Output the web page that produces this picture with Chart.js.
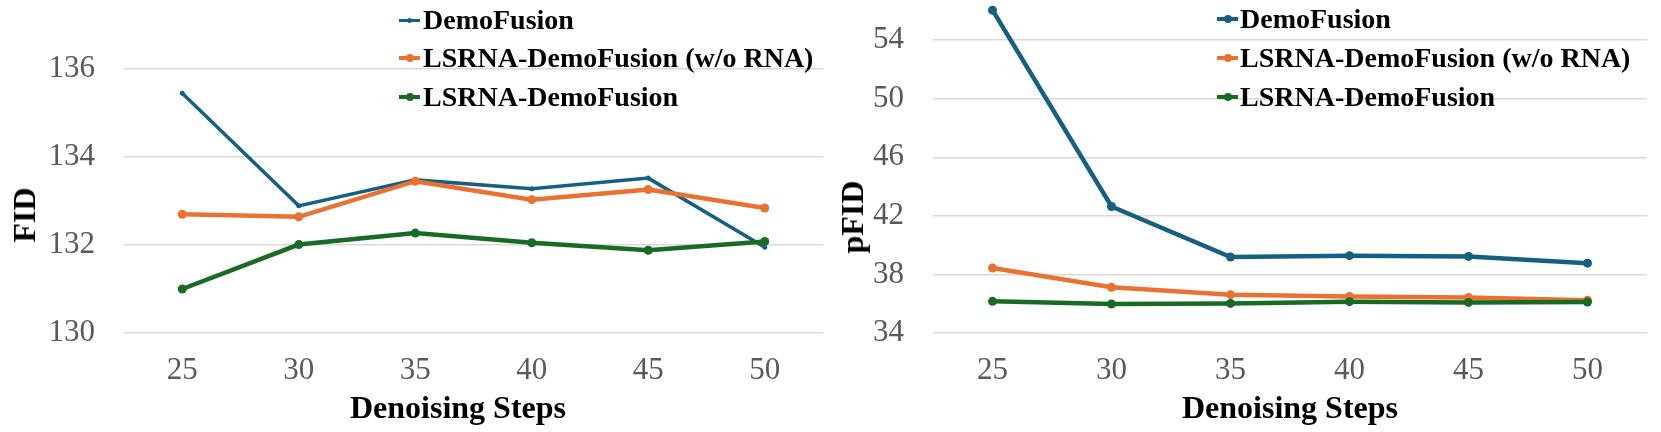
<!DOCTYPE html>
<html>
<head>
<meta charset="utf-8">
<script src="https://cdn.jsdelivr.net/npm/chart.js@4"></script>
<style>
  html, body { margin: 0; padding: 0; background: #fff; }
  #wrap { position: relative; width: 1661px; height: 432px; overflow: hidden; background: #fff; }
  canvas { position: absolute; top: 0; }
  .txt { position: absolute; font-family: 'Liberation Serif', 'Times New Roman', serif; color: #000; white-space: nowrap; }
  .title { font-weight: bold; font-size: 32px; line-height: 32px; }
  .leg { font-weight: bold; font-size: 28px; line-height: 28px; }
  .mk { position: absolute; width: 21px; }
  .mk .ln { position: absolute; left: 0; width: 21px; }
  .mk .dt { position: absolute; border-radius: 50%; }
</style>
</head>
<body>
<div id="wrap">
  <canvas id="c1" width="830" height="432" style="left:0px"></canvas>
  <canvas id="c2" width="831" height="432" style="left:830px"></canvas>
</div>
<script>
const steps = ['25', '30', '35', '40', '45', '50'];
const seriesNames = ['DemoFusion', 'LSRNA-DemoFusion (w/o RNA)', 'LSRNA-DemoFusion'];
const seriesColors = ['#156082', '#E97132', '#196B24'];

const fidDemoFusion = [135.45, 132.89, 133.48, 133.28, 133.52, 131.95];
const fidLsrnaNoRna = [132.70, 132.64, 133.45, 133.03, 133.26, 132.84];
const fidLsrna      = [131.00, 132.01, 132.27, 132.05, 131.88, 132.08];

const pfidDemoFusion = [56.05, 42.64, 39.19, 39.28, 39.23, 38.77];
const pfidLsrnaNoRna = [38.44, 37.12, 36.62, 36.50, 36.43, 36.23];
const pfidLsrna      = [36.16, 35.98, 36.02, 36.14, 36.09, 36.11];

const fidTicks = [130, 132, 134, 136];
const pfidTicks = [34, 38, 42, 46, 50, 54];

const xTitle = 'Denoising Steps';
const yTitleLeft = 'FID';
const yTitleRight = 'pFID';

function makeDatasets(arrays, widths, radii) {
  return arrays.map((d, i) => ({
    label: seriesNames[i],
    data: d,
    borderColor: seriesColors[i],
    backgroundColor: seriesColors[i],
    pointBackgroundColor: seriesColors[i],
    pointBorderColor: seriesColors[i],
    borderWidth: widths[i],
    pointRadius: radii[i],
    pointBorderWidth: 0,
    tension: 0,
    order: 3 - i,
    clip: false
  }));
}

function makeChart(id, datasets, ticks, min, max, padding, yWidth) {
  return new Chart(document.getElementById(id), {
    type: 'line',
    data: { labels: steps, datasets: datasets },
    options: {
      responsive: false,
      animation: false,
      devicePixelRatio: 1,
      layout: { padding: padding, autoPadding: false },
      plugins: { legend: { display: false }, tooltip: { enabled: false } },
      scales: {
        x: {
          type: 'category',
          offset: true,
          grid: { display: false, drawTicks: false },
          border: { display: false },
          ticks: {
            color: '#595959',
            padding: 19,
            maxRotation: 0,
            font: { family: "'Liberation Serif', 'Times New Roman', serif", size: 31 }
          },
          afterFit: s => { s.height = 99; s.paddingLeft = 0; s.paddingRight = 0; }
        },
        y: {
          min: min,
          max: max,
          grid: { color: '#d9d9d9', lineWidth: 1.5, drawTicks: false },
          border: { display: false },
          ticks: {
            color: '#595959',
            padding: 29,
            font: { family: "'Liberation Serif', 'Times New Roman', serif", size: 31 }
          },
          afterBuildTicks: s => { s.ticks = ticks.map(v => ({ value: v })); },
          afterFit: s => { s.width = yWidth; s.paddingTop = 0; s.paddingBottom = 0; }
        }
      }
    }
  });
}

makeChart('c1',
  makeDatasets([fidDemoFusion, fidLsrnaNoRna, fidLsrna], [3.5, 4.5, 4.5], [2.5, 4.5, 4.5]),
  fidTicks, 130, 136, { top: 69, right: 7, bottom: 0, left: 0 }, 124);

makeChart('c2',
  makeDatasets([pfidDemoFusion, pfidLsrnaNoRna, pfidLsrna], [4.5, 4.5, 4.5], [4.5, 4.5, 4.5]),
  pfidTicks, 34, 56.4, { top: 5, right: 14, bottom: 0, left: 0 }, 103);

const wrap = document.getElementById('wrap');
function addText(cls, text, css) {
  const d = document.createElement('div');
  d.className = 'txt ' + cls;
  d.textContent = text;
  Object.assign(d.style, css);
  wrap.appendChild(d);
  return d;
}

// axis titles
addText('title', yTitleLeft, { left: '24px', top: '215px', transform: 'translate(-50%,-50%) rotate(-90deg)' });
addText('title', yTitleRight, { left: '852px', top: '217px', transform: 'translate(-50%,-50%) rotate(-90deg)' });
addText('title', xTitle, { left: '458px', top: '391px', transform: 'translateX(-50%)' });
addText('title', xTitle, { left: '1290px', top: '391px', transform: 'translateX(-50%)' });

// legends
function addLegend(markerX, textX, rowsTop, lineW, dotD) {
  seriesNames.forEach((name, i) => {
    const top = rowsTop[i];
    addText('leg', name, { left: textX + 'px', top: top + 'px' });
    const mk = document.createElement('div');
    mk.className = 'mk';
    mk.style.left = markerX + 'px';
    mk.style.top = (top + 14) + 'px';
    const ln = document.createElement('div');
    ln.className = 'ln';
    ln.style.height = lineW[i] + 'px';
    ln.style.top = (-lineW[i] / 2) + 'px';
    ln.style.background = seriesColors[i];
    const dt = document.createElement('div');
    dt.className = 'dt';
    dt.style.width = dotD[i] + 'px';
    dt.style.height = dotD[i] + 'px';
    dt.style.left = (10.5 - dotD[i] / 2) + 'px';
    dt.style.top = (-dotD[i] / 2) + 'px';
    dt.style.background = seriesColors[i];
    mk.appendChild(ln);
    mk.appendChild(dt);
    wrap.appendChild(mk);
  });
}
addLegend(399, 423, [6, 44, 83], [3, 4, 4], [5, 8, 8]);
addLegend(1217, 1240, [5, 44, 83], [4, 4, 4], [8, 8, 8]);
</script>
</body>
</html>
